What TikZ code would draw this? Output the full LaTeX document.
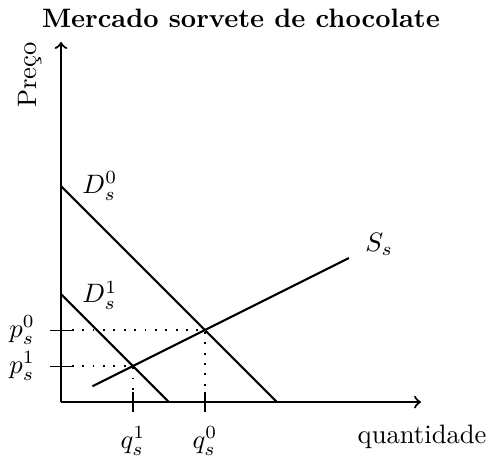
\documentclass[tikz,border=0pt]{standalone}
\usetikzlibrary{calc}
\begin{document}
\begin{tikzpicture}[x=0.475cm,y=0.475cm,
  axis/.style={thick,->},
  curve/.style={thick},
  guide/.style={line width=0.7pt,dash pattern=on 0.7pt off 3.2pt},
  tickmark/.style={thin},
  lbl/.style={inner sep=0pt,anchor=center}]
\useasboundingbox (-1.694,-1.583) rectangle (11.944,11.167);
% coordinates
\coordinate (O) at (0,0);
\coordinate (X) at (10,0);
\coordinate (Y) at (0,10);
\coordinate (D0a) at (0,6);
\coordinate (D0b) at (6,0);
\coordinate (D1a) at (0,3);
\coordinate (D1b) at (3,0);
\coordinate (Sa) at (0.875,0.4375);
\coordinate (Sb) at (8,4);
\coordinate (E0) at (4,2);
\coordinate (E1) at (2,1);
\coordinate (P0l) at (-0.3,2);
\coordinate (P0r) at (0.3,2);
\coordinate (P1l) at (-0.3,1);
\coordinate (P1r) at (0.3,1);
\coordinate (Q0t) at (4,0.28);
\coordinate (Q0b) at (4,-0.28);
\coordinate (Q1t) at (2,0.28);
\coordinate (Q1b) at (2,-0.28);
\coordinate (P0) at (0.3,2);
\coordinate (P1) at (0.3,1);
\coordinate (Q0) at (4,0.28);
\coordinate (Q1) at (2,0.28);
% axes
\draw[axis] (O) -- (X);
\draw[axis] (O) -- (Y);
% curves
\draw[curve] (D0a) -- (D0b);
\draw[curve] (D1a) -- (D1b);
\draw[curve] (Sa) -- (Sb);
% guides
\draw[guide] (P0) -- (E0) -- (Q0);
\draw[guide] (P1) -- (E1) -- (Q1);
% ticks
\draw[tickmark] (P0l) -- (P0r);
\draw[tickmark] (P1l) -- (P1r);
\draw[tickmark] (Q0t) -- (Q0b);
\draw[tickmark] (Q1t) -- (Q1b);
% labels
\node[lbl] (title) at (5.0,10.67) {\textbf{Mercado sorvete de chocolate}};
\node[lbl,rotate=90] (ylab) at (-0.86,9.08) {Preço};
\node[lbl] (xlab) at (10.03,-0.97) {quantidade};
\node[lbl] (ld0) at (1.08,6.0) {$D_s^0$};
\node[lbl] (ld1) at (1.08,2.97) {$D_s^1$};
\node[lbl] (ls) at (8.84,4.39) {$S_s$};
\node[lbl] (lp0) at (-1.08,2.0) {$p_s^0$};
\node[lbl] (lp1) at (-1.08,1.0) {$p_s^1$};
\node[lbl] (lq1) at (2.0,-1.08) {$q_s^1$};
\node[lbl] (lq0) at (4.0,-1.08) {$q_s^0$};
\end{tikzpicture}
\end{document}
